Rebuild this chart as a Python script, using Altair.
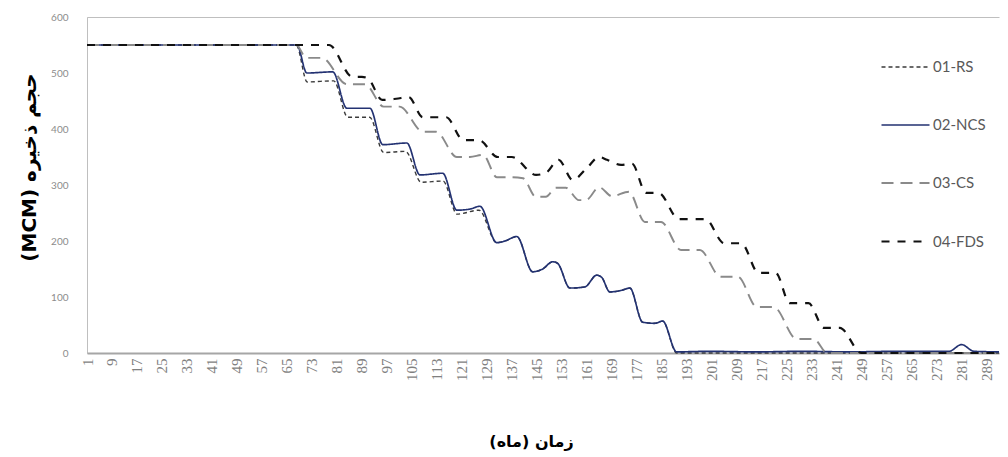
import altair as alt
import pandas as pd

series_names = ["01-RS", "02-NCS", "03-CS", "04-FDS"]

# 01-RS (vertices)
rs_month = [1, 68, 71.5, 80, 84.5, 91.5, 96, 103, 108, 115, 119.5, 126.5, 132.2, 134.8, 138.6,
            143.7, 146.9, 150.1, 151.7, 155.6, 160.4, 164.2, 165.8, 168.4, 172.2, 174.8,
            178.9, 182.8, 185.3, 189.8, 293]
rs_value = [550, 550, 484, 486, 421, 421, 358, 360, 305, 307, 248, 255, 197, 200, 208,
            145, 150, 163, 160, 116, 118, 139, 135, 109, 112, 116,
            55, 53, 57, 0, 0]

# 02-NCS
ncs_month = [1, 68.2, 71.4, 79.7, 84.2, 91.6, 95.7, 103.4, 107.6, 114.9, 119.4, 123.6, 126.8,
             132.2, 134.8, 138.6, 143.7, 146.9, 150.1, 151.7, 155.6, 160.4, 164.2, 165.8,
             168.4, 172.2, 174.8, 178.9, 182.8, 185.3, 189.8, 200, 215, 230, 245, 260, 277,
             281, 285, 293]
ncs_value = [550, 550, 500, 502, 437, 437, 372, 375, 318, 321, 255, 257, 262,
             197, 200, 208, 145, 150, 163, 160, 116, 118, 139, 135,
             109, 112, 116, 55, 53, 57, 2, 3, 2, 3, 2, 3, 3,
             15, 3, 2]

# 03-CS
cs_month = [1, 68, 71.2, 76.2, 84.2, 90, 96.0, 101.1, 108.6, 112.8, 119.4, 123.6, 127.8,
            132.2, 136.4, 140.6, 144.7, 147.9, 151.1, 154.3, 158.5, 160.7, 165.0, 169.1,
            174.5, 179.6, 184.8, 191.2, 197.2, 203.9, 209.4, 215.5, 220.9, 228.2, 233.7,
            238.0, 293]
cs_value = [550, 550, 527, 527, 480, 480, 440, 440, 395, 395, 350, 350, 354,
            314, 314, 312, 279, 279, 295, 295, 273, 273, 296, 280,
            288, 234, 234, 184, 184, 136, 136, 82, 82, 25, 25,
            0, 0]

# 04-FDS
fds_month = [1, 78.5, 86, 89, 91, 95.5, 100, 104, 108.5, 116, 121.5, 126.5, 132.5, 137,
             144.8, 148, 152, 156.5, 161, 165, 167.5, 172, 175.5, 180, 184, 190.5, 199,
             205, 210.5, 216, 221.5, 226, 232, 237, 242, 249, 293]
fds_value = [550, 550, 493, 493, 490, 452, 454, 457, 421, 421, 380, 380, 350, 350,
             318, 322, 345, 309, 330, 350, 345, 336, 338, 286, 286, 239, 239,
             196, 196, 143, 143, 89, 89, 45, 45, 0, 0]

x_ticks = list(range(1, 290, 8))
y_ticks = [0, 100, 200, 300, 400, 500, 600]

rows = []
for name, ms, vs in zip(series_names,
                        [rs_month, ncs_month, cs_month, fds_month],
                        [rs_value, ncs_value, cs_value, fds_value]):
    for m, v in zip(ms, vs):
        rows.append({"series": name, "month": m, "volume": v})
df = pd.DataFrame(rows)

W, H = 912, 336

color_scale = alt.Scale(domain=series_names, range=["#3a3a3a", "#233272", "#8a8a8a", "#111111"])
dash_scale = alt.Scale(domain=series_names, range=[[4, 3], [1, 0], [12, 7], [8, 8]])
width_scale = alt.Scale(domain=series_names, range=[1.4, 2.2, 1.8, 3.2])

legend = alt.Legend(
    title=None, orient="none", legendX=793, legendY=25,
    symbolType="stroke", symbolSize=2304, rowPadding=25,
    labelFont="Lato", labelFontSize=15, labelColor="#595959", labelOffset=2,
)

x_enc = alt.X(
    "month:Q",
    scale=alt.Scale(domain=[1, 293], nice=False, zero=False),
    axis=alt.Axis(
        values=x_ticks, labelAngle=270, labelOverlap=False, ticks=False,
        labelFont="Liberation Serif", labelFontSize=15, labelColor="#7f7f7f", labelPadding=5,
        domain=True, domainColor="#a6a6a6", domainWidth=2, grid=False,
        title="زمان (ماه)", titleFont="DejaVu Sans", titleFontSize=16, titleFontWeight="bold",
        titleColor="#000000", titleX=444, titleY=80, titleBaseline="top",
    ),
)
y_enc = alt.Y(
    "volume:Q",
    scale=alt.Scale(domain=[0, 600], nice=False),
    axis=alt.Axis(
        values=y_ticks, ticks=False, domain=False, grid=False,
        labelFont="Lato", labelFontSize=10, labelColor="#8c8c8c", labelPadding=19,
        title="(MCM) حجم ذخیره", titleFont="DejaVu Sans", titleFontSize=20,
        titleFontWeight="bold", titleColor="#000000", titlePadding=11, titleY=150,
    ),
)

layers = []
for name in series_names:
    layers.append(
        alt.Chart(df).transform_filter(alt.datum.series == name)
        .mark_line(interpolate="monotone")
        .encode(
            x=x_enc, y=y_enc,
            color=alt.Color("series:N", scale=color_scale, legend=legend),
            strokeDash=alt.StrokeDash("series:N", scale=dash_scale, legend=legend),
            strokeWidth=alt.StrokeWidth("series:N", scale=width_scale, legend=legend),
        )
    )

chart = (
    alt.layer(*layers)
    .properties(
        width=W, height=H,
        autosize=alt.AutoSizeParams(type="none"),
        padding={"left": 79, "top": 9, "right": 1, "bottom": 100},
        background="#ffffff",
    )
    .configure_view(stroke="#bfbfbf", strokeWidth=1, strokeDash=[W, H, W + H])
)

chart.save("out.html", embed_options={"renderer": "svg", "actions": False})
